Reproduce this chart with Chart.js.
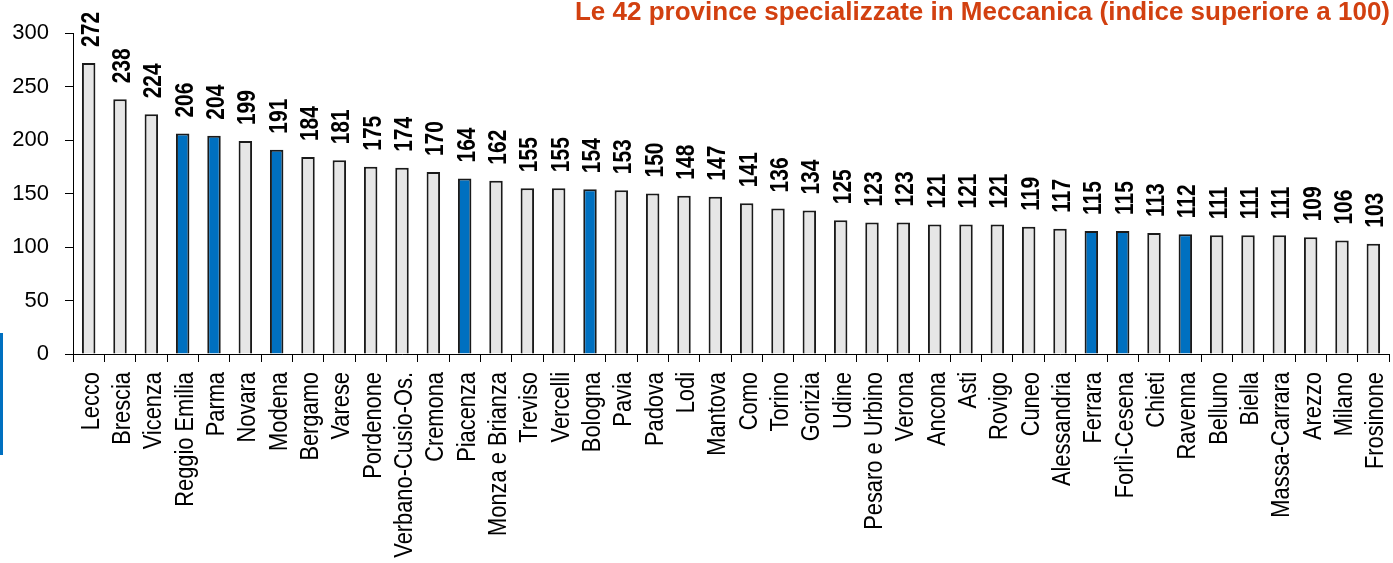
<!DOCTYPE html>
<html>
<head>
<meta charset="utf-8">
<script src="https://cdn.jsdelivr.net/npm/chart.js@4"></script>
<style>
  html, body { margin: 0; padding: 0; background: #fff; }
  #wrap { position: relative; width: 1393px; height: 563px; }
  #barra { position: absolute; left: 0; top: 333px; width: 3px; height: 122px; background: #0070c0; }
</style>
</head>
<body>
<div id="wrap">
  <canvas id="graf" width="1393" height="563"></canvas>
  <div id="barra"></div>
</div>
<script>
let province = ['Lecco', 'Brescia', 'Vicenza', 'Reggio Emilia', 'Parma', 'Novara', 'Modena', 'Bergamo', 'Varese',
    'Pordenone', 'Verbano-Cusio-Os.', 'Cremona', 'Piacenza', 'Monza e Brianza', 'Treviso', 'Vercelli', 'Bologna',
    'Pavia', 'Padova', 'Lodi', 'Mantova', 'Como', 'Torino', 'Gorizia', 'Udine', 'Pesaro e Urbino', 'Verona',
    'Ancona', 'Asti', 'Rovigo', 'Cuneo', 'Alessandria', 'Ferrara', 'Forlì-Cesena', 'Chieti', 'Ravenna',
    'Belluno', 'Biella', 'Massa-Carrara', 'Arezzo', 'Milano', 'Frosinone']
let indice = [272, 238, 224, 206, 204, 199, 191, 184, 181, 175, 174, 170, 164, 162, 155, 155, 154, 153, 150,
    148, 147, 141, 136, 134, 125, 123, 123, 121, 121, 121, 119, 117, 115, 115, 113, 112, 111, 111, 111, 109, 106, 103]
let emiliaRomagna = ['Reggio Emilia', 'Parma', 'Modena', 'Piacenza', 'Bologna', 'Ferrara', 'Forlì-Cesena', 'Ravenna']
let tickY = [0, 50, 100, 150, 200, 250, 300]
let titolo = 'Le 42 province specializzate in Meccanica (indice superiore a 100)'

let SANS = '"Liberation Sans", Arial, sans-serif'

let colori = []
for (let i = 0; i < province.length; i++) {
    colori.push(emiliaRomagna.includes(province[i]) ? '#0070c0' : '#e6e6e6')
}

// testo verticale "stretto" (l'originale è compresso in larghezza)
function testoVerticale(ctx, testo, x, y, allinea, spostamento) {
    ctx.save()
    ctx.translate(x, y)
    ctx.rotate(-Math.PI / 2)
    ctx.scale(0.84, 1)
    ctx.textAlign = allinea
    ctx.textBaseline = 'alphabetic'
    ctx.fillText(testo, 0, spostamento)
    ctx.restore()
}

// etichette province, valori sopra le barre e titolo
const etichette = {
    id: 'etichette',
    afterDraw(chart) {
        const ctx = chart.ctx
        const meta = chart.getDatasetMeta(0)
        const xs = chart.scales.x
        ctx.save()
        ctx.fillStyle = '#000'

        ctx.font = 'bold 25px ' + SANS
        meta.data.forEach((bar, i) => {
            testoVerticale(ctx, String(indice[i]), bar.x, bar.y - 16, 'left', 10)
        })

        ctx.font = '26px ' + SANS
        for (let i = 0; i < province.length; i++) {
            testoVerticale(ctx, province[i], xs.getPixelForTick(i), chart.chartArea.bottom + 18, 'right', 10)
        }

        ctx.font = 'bold 26px ' + SANS
        ctx.fillStyle = '#d24010'
        ctx.textAlign = 'right'
        ctx.textBaseline = 'alphabetic'
        ctx.fillText(titolo, 1390, 20)
        ctx.restore()
    }
}

const data = {
    labels: province,
    datasets: [{
        data: indice,
        backgroundColor: colori,
        borderColor: '#1a1a1a',
        borderWidth: 2,
        barPercentage: 0.43,
        categoryPercentage: 1
    }]
}

const config = {
    type: 'bar',
    data: data,
    options: {
        responsive: false,
        animation: false,
        layout: { padding: { top: 33, right: 4, left: 0, bottom: 0 } },
        plugins: {
            legend: { display: false },
            title: { display: false },
            tooltip: { enabled: false }
        },
        scales: {
            x: {
                afterFit: (s) => { s.height = 563 - 354 },
                border: { display: true, color: '#000', width: 1 },
                grid: { display: true, drawOnChartArea: false, drawTicks: true, tickLength: 8, color: '#000', offset: true },
                ticks: {
                    autoSkip: false,
                    minRotation: 90,
                    maxRotation: 90,
                    color: 'rgba(0,0,0,0)',
                    font: { family: SANS, size: 10 }
                }
            },
            y: {
                min: 0,
                max: 300,
                afterFit: (s) => { s.width = 73 },
                afterBuildTicks: (s) => { s.ticks = tickY.map(v => ({ value: v })) },
                border: { display: true, color: '#000', width: 1 },
                grid: { display: true, drawOnChartArea: false, drawTicks: true, tickLength: 8, color: '#000' },
                ticks: {
                    padding: 16,
                    color: '#000',
                    font: { family: SANS, size: 22 }
                }
            }
        }
    },
    plugins: [etichette]
}

let meuGrafico = new Chart(document.getElementById('graf').getContext('2d'), config)
</script>
</body>
</html>
